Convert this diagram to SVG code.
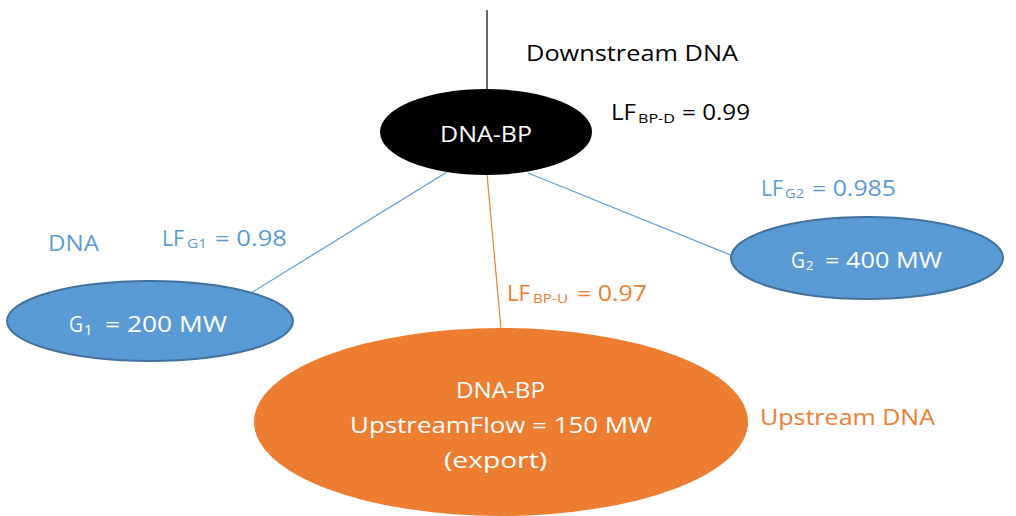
<svg xmlns="http://www.w3.org/2000/svg" width="1016" height="516" viewBox="0 0 1016 516">
<style>
text{font-family:"Open Sans","Liberation Sans",sans-serif;font-size:22px}
.sub{font-size:13px}
.w{fill:#ffffff}
.k{fill:#000000}
.b{fill:#5B9BD5}
.o{fill:#ED7D31}
.c{stroke-width:1.2;fill:none}
</style>
<rect width="1016" height="516" fill="#ffffff"/>
<g id="connectors">
<line class="c" x1="487" y1="10" x2="487" y2="90" stroke="#000000"/>
<line class="c" x1="447" y1="172" x2="251" y2="293" stroke="#5B9BD5"/>
<line class="c" x1="528" y1="173" x2="738" y2="258" stroke="#5B9BD5"/>
<line class="c" x1="487" y1="174" x2="501" y2="329" stroke="#ED7D31"/>
</g>
<g id="label-downstream">
<text class="k" x="526" y="61" textLength="212" lengthAdjust="spacingAndGlyphs">Downstream DNA</text>
</g>
<g id="label-lf-bpd">
<text class="k" x="611" y="120" textLength="25" lengthAdjust="spacingAndGlyphs">LF</text>
<text class="k sub" x="638" y="123" textLength="37" lengthAdjust="spacingAndGlyphs">BP-D</text>
<text class="k" x="682" y="120" textLength="68" lengthAdjust="spacingAndGlyphs">= 0.99</text>
</g>
<g id="node-dna-bp">
<ellipse cx="486" cy="132" rx="106" ry="43" fill="#000000"/>
<text class="w" x="440" y="142" textLength="92" lengthAdjust="spacingAndGlyphs">DNA-BP</text>
</g>
<g id="label-dna">
<text class="b" x="48" y="251" textLength="51" lengthAdjust="spacingAndGlyphs">DNA</text>
</g>
<g id="label-lf-g1">
<text class="b" x="162" y="246" textLength="22" lengthAdjust="spacingAndGlyphs">LF</text>
<text class="b sub" x="187" y="248" textLength="20" lengthAdjust="spacingAndGlyphs">G1</text>
<text class="b" x="215" y="246" textLength="72" lengthAdjust="spacingAndGlyphs">= 0.98</text>
</g>
<g id="label-lf-g2">
<text class="b" x="761" y="196" textLength="22" lengthAdjust="spacingAndGlyphs">LF</text>
<text class="b sub" x="785" y="198" textLength="19" lengthAdjust="spacingAndGlyphs">G2</text>
<text class="b" x="812" y="196" textLength="84" lengthAdjust="spacingAndGlyphs">= 0.985</text>
</g>
<g id="label-lf-bpu">
<text class="o" x="507" y="301" textLength="23" lengthAdjust="spacingAndGlyphs">LF</text>
<text class="o sub" x="533" y="303" textLength="35" lengthAdjust="spacingAndGlyphs">BP-U</text>
<text class="o" x="577" y="301" textLength="70" lengthAdjust="spacingAndGlyphs">= 0.97</text>
</g>
<g id="node-g1">
<ellipse cx="150" cy="321" rx="143" ry="40" fill="#5B9BD5" stroke="#41719C" stroke-width="2"/>
<text class="w" x="69" y="332" textLength="14" lengthAdjust="spacingAndGlyphs">G</text>
<text class="w sub" x="84" y="335" font-size="15" style="font-size:15px">1</text>
<text class="w" x="105" y="332" textLength="122" lengthAdjust="spacingAndGlyphs">= 200 MW</text>
</g>
<g id="node-g2">
<ellipse cx="867" cy="258" rx="136" ry="41" fill="#5B9BD5" stroke="#41719C" stroke-width="2"/>
<text class="w" x="791" y="268" textLength="14" lengthAdjust="spacingAndGlyphs">G</text>
<text class="w sub" x="806" y="270">2</text>
<text class="w" x="825" y="268" textLength="117" lengthAdjust="spacingAndGlyphs">= 400 MW</text>
</g>
<g id="node-upstream">
<ellipse cx="501" cy="422" rx="247" ry="94" fill="#ED7D31"/>
<text class="w" x="456" y="398" textLength="89" lengthAdjust="spacingAndGlyphs">DNA-BP</text>
<text class="w" x="350" y="433" textLength="302" lengthAdjust="spacingAndGlyphs">UpstreamFlow = 150 MW</text>
<text class="w" x="444" y="468" textLength="103" lengthAdjust="spacingAndGlyphs">(export)</text>
</g>
<g id="label-upstream">
<text class="o" x="760" y="425" textLength="175" lengthAdjust="spacingAndGlyphs">Upstream DNA</text>
</g>
</svg>
